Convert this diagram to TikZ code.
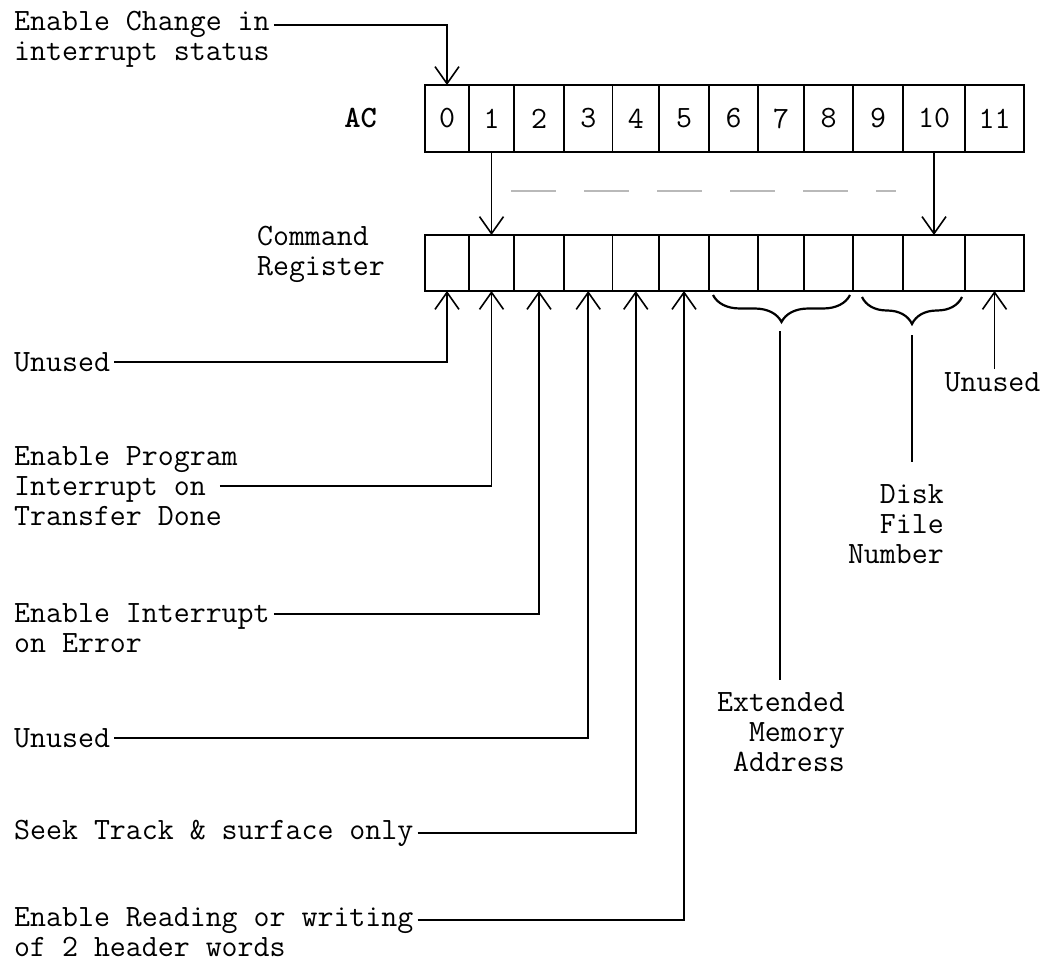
\documentclass[tikz,border=0pt]{standalone}
\usepackage{fontspec}
\newcommand\typefont{\ttfamily\fontsize{31}{30}\selectfont}
\usetikzlibrary{arrows.meta, positioning, decorations.pathreplacing}

\begin{document}
\begin{tikzpicture}[
    x=1pt, y=-1pt,
    txt/.style={font=\typefont, inner sep=4pt, align=left},
    acbit/.style={draw, line width=1.8pt, minimum height=67pt, inner sep=0pt, outer sep=0pt, font=\typefont},
    cmbit/.style={draw, line width=1.8pt, minimum height=56pt, inner sep=0pt, outer sep=0pt},
    wire/.style={line width=1.6pt},
    brc/.style={decorate, decoration={brace, mirror, amplitude=27pt}, line width=2.2pt},
    faint/.style={gray!55, line width=1.2pt, dash pattern=on 45pt off 28pt},
    >={Straight Barb[length=17pt, width=24pt]}
]
\useasboundingbox (0,0) rectangle (1043,965);
% AC register
\node[acbit, minimum width=44pt, anchor=north west] (a0) at (425,85) {0};
\node[acbit, minimum width=45pt, right=0pt of a0] (a1) {1};
\node[acbit, minimum width=50pt, right=0pt of a1] (a2) {2};
\node[acbit, minimum width=48.5pt, right=0pt of a2] (a3) {3};
\node[acbit, minimum width=46.5pt, right=0pt of a3] (a4) {4};
\node[acbit, minimum width=50pt, right=0pt of a4] (a5) {5};
\node[acbit, minimum width=49pt, right=0pt of a5] (a6) {6};
\node[acbit, minimum width=46pt, right=0pt of a6] (a7) {7};
\node[acbit, minimum width=49pt, right=0pt of a7] (a8) {8};
\node[acbit, minimum width=50pt, right=0pt of a8] (a9) {9};
\node[acbit, minimum width=62pt, right=0pt of a9] (a10) {10};
\node[acbit, minimum width=59pt, right=0pt of a10] (a11) {11};
\node[txt, font=\typefont\bfseries, left=44pt of a0] (aclbl) {AC};
% command register
\node[cmbit, minimum width=44pt, below=83pt of a0] (c0) {};
\node[cmbit, minimum width=45pt, below=83pt of a1] (c1) {};
\node[cmbit, minimum width=50pt, below=83pt of a2] (c2) {};
\node[cmbit, minimum width=48.5pt, below=83pt of a3] (c3) {};
\node[cmbit, minimum width=46.5pt, below=83pt of a4] (c4) {};
\node[cmbit, minimum width=50pt, below=83pt of a5] (c5) {};
\node[cmbit, minimum width=49pt, below=83pt of a6] (c6) {};
\node[cmbit, minimum width=46pt, below=83pt of a7] (c7) {};
\node[cmbit, minimum width=49pt, below=83pt of a8] (c8) {};
\node[cmbit, minimum width=50pt, below=83pt of a9] (c9) {};
\node[cmbit, minimum width=62pt, below=83pt of a10] (c10) {};
\node[cmbit, minimum width=59pt, below=83pt of a11] (c11) {};
\node[txt, left=36pt of c0, yshift=9pt] (cmdreg) {Command\\Register};
% AC to command register
\draw[wire, ->] (a1) -- (c1);
\draw[wire, ->] (a10) -- (c10);
\coordinate (gapl) at (511,191);
\coordinate (gapr) at (896,191);
\draw[faint] (gapl) -- (gapr);
% labels on the left
\node[txt, anchor=west] (chg) at (10,39) {Enable Change in\\interrupt status};
\node[txt, anchor=west] (unused1) at (10,362) {Unused};
\node[txt, anchor=west] (prog) at (10,486) {Enable Program\\Interrupt on\\Transfer Done};
\node[txt, anchor=west] (err) at (10,628) {Enable Interrupt\\on Error};
\node[txt, anchor=west] (unused2) at (10,738) {Unused};
\node[txt, anchor=west] (seek) at (10,833) {Seek Track \& surface only};
\node[txt, anchor=west] (read) at (10,932) {Enable Reading or writing\\of 2 header words};
\draw[wire, ->] ([yshift=14pt]chg.east) -| (a0.north);
\draw[wire, ->] (unused1.east) -| (c0.south);
\draw[wire, ->] ([xshift=-22pt]prog.east) -| (c1.south);
\draw[wire, ->] ([yshift=14pt]err.east) -| (c2.south);
\draw[wire, ->] (unused2.east) -| (c3.south);
\draw[wire, ->] (seek.east) -| (c4.south);
\draw[wire, ->] ([yshift=12pt]read.east) -| (c5.south);
% fields on the right
\node[txt, below=78pt of c11, inner sep=3pt, xshift=-2pt] (unused3) {Unused};
\draw[wire, ->] (unused3.north -| c11.south) -- (c11.south);
\draw[brc] ([xshift=4pt, yshift=-4pt]c6.south west) -- ([xshift=-3pt, yshift=-4pt]c8.south east);
\draw[brc] ([xshift=9pt, yshift=-6pt]c9.south west) -- ([xshift=-3pt, yshift=-6pt]c10.south east);
\coordinate (emtip) at (780,331);
\coordinate (dftip) at (912,335);
\node[txt, align=right, anchor=north east] (emad) at (849,688) {Extended\\Memory\\Address};
\node[txt, align=right, anchor=north east] (dfn) at (948,480) {Disk\\File\\Number};
\draw[wire, shorten >=8pt] (emtip) -- (emtip |- emad.north);
\draw[wire, shorten >=18pt] (dftip) -- (dftip |- dfn.north);
\end{tikzpicture}
\end{document}
